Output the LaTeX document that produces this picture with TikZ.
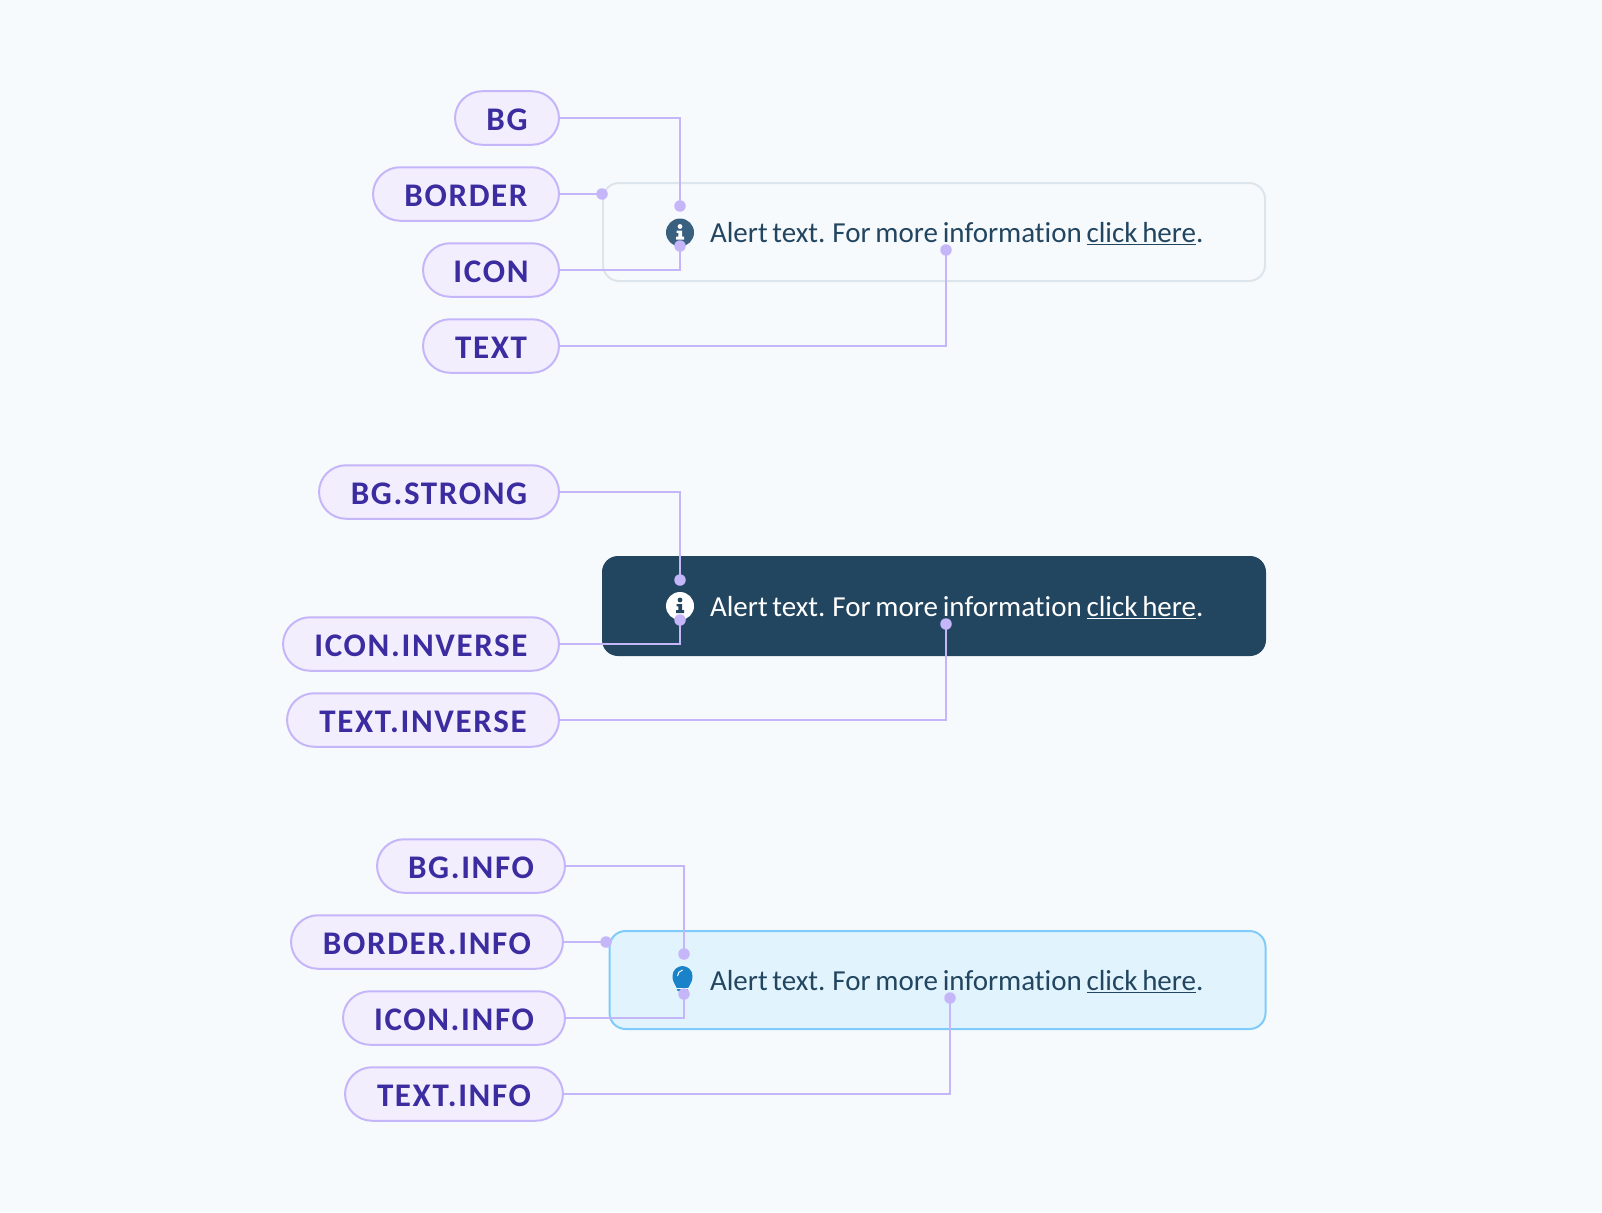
\documentclass[tikz,border=0pt]{standalone}
\usepackage{fontspec}
\setmainfont[Ligatures=NoCommon,WordSpace=0.72]{Carlito}
\newfontfamily\labfont[LetterSpace=5,Ligatures=NoCommon]{Carlito}
\definecolor{pagebg}{HTML}{F7FAFD}
\definecolor{pillfill}{HTML}{F3EEFE}
\definecolor{lilac}{HTML}{C5B5F9}
\definecolor{labtext}{HTML}{3B2CA0}
\definecolor{ink}{HTML}{224560}
\definecolor{iconblue}{HTML}{3A6080}
\definecolor{bulb}{HTML}{1A82C8}
\definecolor{line1}{HTML}{DCE4EC}
\definecolor{line3}{HTML}{7FCBFA}
\definecolor{fill3}{HTML}{E1F3FD}
\tikzset{
  pill/.style={draw=lilac,fill=pillfill,line width=2pt,rounded corners=27pt,minimum height=53.5pt,inner sep=0pt,outer sep=0pt,text=labtext,font=\labfont\bfseries\fontsize{33}{33}\selectfont,text height=24pt,text depth=0pt},
  conn/.style={draw=lilac,line width=2pt},
  dot/.style={circle,fill=lilac,minimum size=11.5pt,inner sep=0pt,outer sep=0pt},
  alertbox/.style={rounded corners=16pt,line width=2pt,minimum height=98pt,inner sep=0pt,outer sep=0pt},
  alerttext/.style={anchor=base west,inner sep=0pt,outer sep=0pt,font=\fontsize{29}{29}\selectfont},
}
\newcommand{\pillat}[5]{\node[pill,minimum width={#3-#2}] (#1) at ({(#2+#3)/2},#4) {#5};}
\newcommand{\alertline}{Alert text. For more information \underline{click here}.}
\newcommand{\infoicon}[3]{%
  \fill[#2] (#1) circle[radius=14pt];
  \begin{scope}[shift={(#1)}]
    \fill[#3] (0,-6) circle[radius=2.4pt];
    \fill[#3] (-3.5,-2) -- (2,-2) -- (2,4.2) -- (4,4.2) -- (4,7) -- (-4,7) -- (-4,4.2) -- (-1.6,4.2) -- (-1.6,0.4) -- (-3.5,0.4) -- cycle;
  \end{scope}}
\begin{document}
\begin{tikzpicture}[x=1pt,y=-1pt]
\useasboundingbox (0,0) rectangle (1602,1212);
\fill[pagebg] (0,0) rectangle (1602,1212);
% ---- group 1
\node[alertbox,draw=line1,fill=pagebg,minimum width=662pt] (box1) at (934,232) {};
\infoicon{680,232.5}{iconblue}{white}
\node[alerttext,text=ink] (txt1) at (710,242.5) {\alertline};
\pillat{bg}{455}{559}{118}{BG}
\pillat{border}{373}{559}{194}{BORDER}
\pillat{icon}{423}{559}{270}{ICON}
\pillat{text}{423}{559}{346}{TEXT}
\node[dot] (d1a) at (680,206) {};
\node[dot] (d1b) at (602,194) {};
\node[dot] (d1c) at (680,246) {};
\node[dot] (d1d) at (946,250) {};
\draw[conn] (bg.east) -| (d1a.center);
\draw[conn] (border.east) -- (d1b.center);
\draw[conn] (icon.east) -| (d1c.center);
\draw[conn] (text.east) -| (d1d.center);
% ---- group 2
\node[alertbox,fill=ink,minimum width=664pt,minimum height=100pt] (box2) at (934,606) {};
\infoicon{680,606}{white}{ink}
\node[alerttext,text=white] (txt2) at (710,616.5) {\alertline};
\pillat{bgs}{319}{559}{492}{BG.STRONG}
\pillat{iconi}{283}{559}{644}{ICON.INVERSE}
\pillat{texti}{287}{559}{720}{TEXT.INVERSE}
\node[dot] (d2a) at (680,580) {};
\node[dot] (d2c) at (680,620) {};
\node[dot] (d2d) at (946,624) {};
\draw[conn] (bgs.east) -| (d2a.center);
\draw[conn] (iconi.east) -| (d2c.center);
\draw[conn] (texti.east) -| (d2d.center);
% ---- group 3
\node[alertbox,draw=line3,fill=fill3,minimum width=656pt] (box3) at (937.5,980) {};
\begin{scope}[shift={(682.5,979)}]
  \fill[bulb] (-5,12) .. controls (-5,7) and (-10,5) .. (-10,-3) .. controls (-10,-9) and (-5,-13) .. (0,-13) .. controls (5,-13) and (10,-9) .. (10,-3) .. controls (10,5) and (5,7) .. (5,12) -- cycle;
  \draw[white,line width=1pt] (-5,-3) .. controls (-5,-6) and (-3,-8) .. (0,-9);
  \fill[white] (-6,8.5) rectangle (6,9.5);
\end{scope}
\node[alerttext,text=ink] (txt3) at (710,990.5) {\alertline};
\pillat{bgn}{377}{565}{866}{BG.INFO}
\pillat{bordern}{291}{563}{942}{BORDER.INFO}
\pillat{iconn}{343}{565}{1018}{ICON.INFO}
\pillat{textn}{345}{563}{1094}{TEXT.INFO}
\node[dot] (d3a) at (684,954) {};
\node[dot] (d3b) at (606,942) {};
\node[dot] (d3c) at (684,994) {};
\node[dot] (d3d) at (950,998) {};
\draw[conn] (bgn.east) -| (d3a.center);
\draw[conn] (bordern.east) -- (d3b.center);
\draw[conn] (iconn.east) -| (d3c.center);
\draw[conn] (textn.east) -| (d3d.center);
\end{tikzpicture}
\end{document}
